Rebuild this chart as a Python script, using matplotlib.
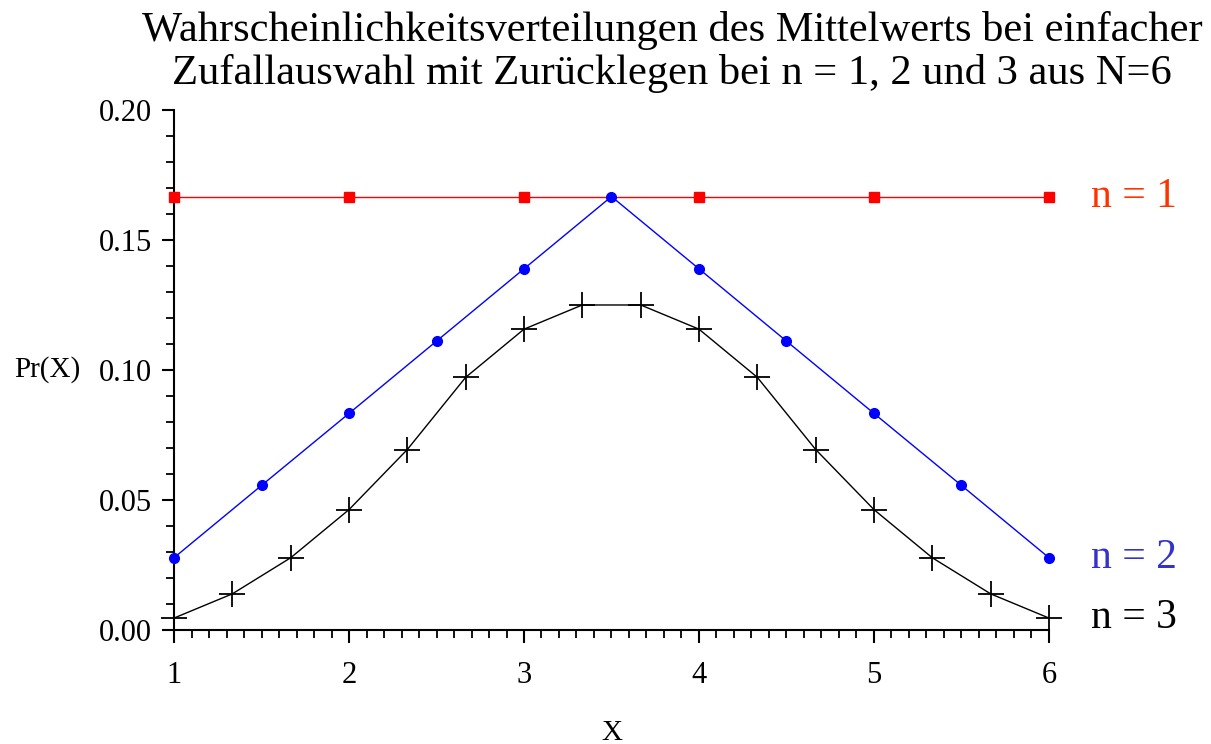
import numpy as np
import matplotlib
matplotlib.use("Agg")
import matplotlib.pyplot as plt
from matplotlib.ticker import MultipleLocator, FormatStrFormatter

plt.rcParams["font.family"] = ["Liberation Serif", "DejaVu Serif"]

# sample mean values and their probabilities for n = 1, 2, 3 draws from N=6
x1 = [1, 2, 3, 4, 5, 6]
p1 = [0.1667, 0.1667, 0.1667, 0.1667, 0.1667, 0.1667]
x2 = [1.0, 1.5, 2.0, 2.5, 3.0, 3.5, 4.0, 4.5, 5.0, 5.5, 6.0]
p2 = [0.0278, 0.0556, 0.0833, 0.1111, 0.1389, 0.1667,
      0.1389, 0.1111, 0.0833, 0.0556, 0.0278]
x3 = [1.0, 1.333, 1.667, 2.0, 2.333, 2.667, 3.0, 3.333,
      3.667, 4.0, 4.333, 4.667, 5.0, 5.333, 5.667, 6.0]
p3 = [0.0046, 0.0139, 0.0278, 0.0463, 0.0694, 0.0972, 0.1157, 0.1250,
      0.1250, 0.1157, 0.0972, 0.0694, 0.0463, 0.0278, 0.0139, 0.0046]

fig = plt.figure(figsize=(12.11, 7.44), dpi=100)
ax = fig.add_axes([0.1437, 0.1532, 0.7225, 0.699])

ax.plot(x1, p1, color="#ff0000", lw=1, marker="s", ms=7.5, mec="#ff0000",
        mfc="#ff0000", clip_on=False, zorder=3)
ax.plot(x2, p2, color="#0000ff", lw=1, marker="o", ms=7, mec="#0000ff",
        mfc="#0000ff", clip_on=False, zorder=3)
ax.plot(x3, p3, color="black", lw=1, marker="+", ms=19, mew=1.3,
        clip_on=False, zorder=3)

ax.set_xlim(1, 6)
ax.set_ylim(0, 0.20)
for s in ("top", "right"):
    ax.spines[s].set_visible(False)
ax.spines["left"].set_linewidth(1.5)
ax.spines["bottom"].set_linewidth(1.5)

ax.xaxis.set_major_locator(MultipleLocator(1))
ax.xaxis.set_minor_locator(MultipleLocator(0.1))
ax.yaxis.set_major_locator(MultipleLocator(0.05))
ax.yaxis.set_minor_locator(MultipleLocator(0.01))
ax.yaxis.set_major_formatter(FormatStrFormatter("%.2f"))
ax.tick_params(which="major", direction="out", length=9, width=1.5,
               labelsize=22)
ax.tick_params(which="minor", direction="out", length=6, width=1.3)
ax.tick_params(axis="x", which="major", pad=13)
ax.tick_params(axis="y", which="major", pad=7)

fig.text(0.012, 0.503, "Pr(X)", fontsize=21, ha="left", va="center")
fig.text(0.505, 0.015, "X", fontsize=21, ha="center", va="center")

fig.text(0.555, 0.93, "Wahrscheinlichkeitsverteilungen des Mittelwerts bei einfacher\n"
         "Zufallauswahl mit Zurücklegen bei n = 1, 2 und 3 aus N=6",
         fontsize=30.6, ha="center", va="center", linespacing=1.12)

ax.text(6.24, p1[-1], "n = 1", color="#ff3300", fontsize=30, va="center")
ax.text(6.24, p2[-1], "n = 2", color="#3333cc", fontsize=30, va="center")
ax.text(6.24, p3[-1], "n = 3", color="black", fontsize=30, va="center")

fig.savefig("out.png", dpi=100)
